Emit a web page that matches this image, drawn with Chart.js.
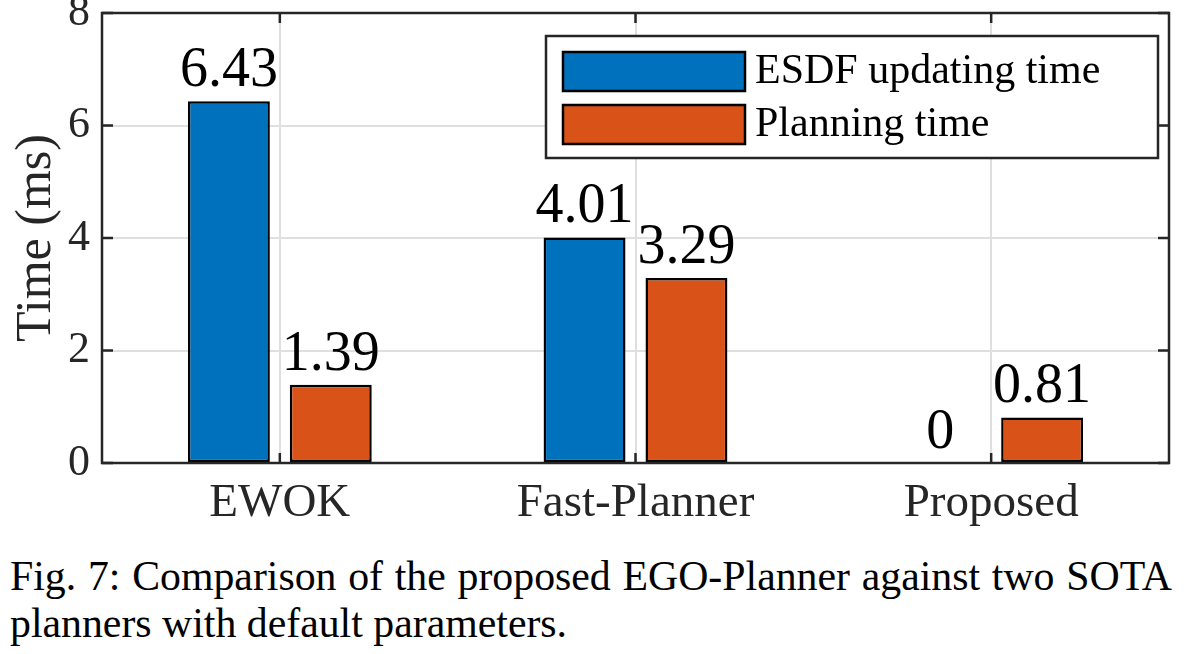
<!DOCTYPE html>
<html>
<head>
<meta charset="utf-8">
<script src="https://cdn.jsdelivr.net/npm/chart.js@4"></script>
<style>
  html, body { margin: 0; padding: 0; background: #fff; }
  body { width: 1184px; height: 654px; overflow: hidden; }
  #wrap { position: relative; width: 1184px; height: 540px; }
  #caption {
    font-family: "Liberation Serif", "Times New Roman", serif;
    font-size: 41.8px;
    line-height: 47px;
    color: #000;
    margin: 13px 0 0 10px;
    width: 1162px;
    white-space: nowrap;
  }
  #caption .l1 { text-align: justify; text-align-last: justify; }
</style>
</head>
<body>
<div id="wrap"><canvas id="timeChart"></canvas></div>
<div id="caption">
  <div class="l1">Fig. 7: Comparison of the proposed EGO-Planner against two SOTA</div>
  <div>planners with default parameters.</div>
</div>
<script>
const categories = ['EWOK', 'Fast-Planner', 'Proposed'];
const esdfTimes = [6.43, 4.01, 0];
const planningTimes = [1.39, 3.29, 0.81];
const seriesNames = ['ESDF updating time', 'Planning time'];
const yTicks = [0, 2, 4, 6, 8];

const SERIF = '"Liberation Serif", "Times New Roman", serif';
const AXIS_COLOR = '#262626';
const GRID_COLOR = '#dfdfdf';

// value labels above each bar
const barLabels = {
    id: 'barLabels',
    afterDatasetsDraw(chart) {
        const ctx = chart.ctx;
        ctx.save();
        ctx.font = '56px ' + SERIF;
        ctx.fillStyle = '#000';
        ctx.textAlign = 'center';
        ctx.textBaseline = 'alphabetic';
        chart.data.datasets.forEach((ds, i) => {
            chart.getDatasetMeta(i).data.forEach((bar, j) => {
                ctx.fillText(String(ds.data[j]), bar.x, bar.y - 15);
            });
        });
        ctx.restore();
    }
};

// box around plot + inward ticks
const axesBox = {
    id: 'axesBox',
    afterDraw(chart) {
        const ctx = chart.ctx;
        const a = chart.chartArea;
        const xs = chart.scales.x, ys = chart.scales.y;
        ctx.save();
        ctx.strokeStyle = AXIS_COLOR;
        ctx.lineWidth = 2.5;
        ctx.beginPath();
        ys.ticks.forEach(t => {
            const y = ys.getPixelForValue(t.value);
            ctx.moveTo(a.left, y); ctx.lineTo(a.left + 11, y);
            ctx.moveTo(a.right, y); ctx.lineTo(a.right - 11, y);
        });
        xs.ticks.forEach((t, i) => {
            const x = xs.getPixelForValue(i);
            ctx.moveTo(x, a.bottom); ctx.lineTo(x, a.bottom - 10);
            ctx.moveTo(x, a.top); ctx.lineTo(x, a.top + 10);
        });
        ctx.stroke();
        ctx.strokeRect(a.left, a.top, a.right - a.left, a.bottom - a.top);
        ctx.restore();
    }
};

// legend box inside the plot, top right
const boxLegend = {
    id: 'boxLegend',
    afterDraw(chart) {
        const ctx = chart.ctx;
        const a = chart.chartArea;
        const w = 612, h = 122;
        const x0 = a.right - 11 - w, y0 = a.top + 23;
        ctx.save();
        ctx.fillStyle = '#fff';
        ctx.fillRect(x0, y0, w, h);
        ctx.strokeStyle = AXIS_COLOR;
        ctx.lineWidth = 2.5;
        ctx.strokeRect(x0, y0, w, h);
        ctx.font = '42px ' + SERIF;
        ctx.textBaseline = 'middle';
        ctx.textAlign = 'left';
        chart.data.datasets.forEach((ds, i) => {
            const sy = y0 + 16 + i * 53;
            ctx.fillStyle = ds.backgroundColor;
            ctx.fillRect(x0 + 17, sy, 182, 39);
            ctx.strokeStyle = '#000';
            ctx.lineWidth = 2.5;
            ctx.strokeRect(x0 + 17, sy, 182, 39);
            ctx.fillStyle = '#000';
            ctx.fillText(ds.label, x0 + 209, sy + 20);
        });
        ctx.restore();
    }
};

new Chart(document.getElementById('timeChart'), {
    type: 'bar',
    data: {
        labels: categories,
        datasets: [{
            label: seriesNames[0],
            data: esdfTimes,
            backgroundColor: '#0072BD',
            borderColor: '#000',
            borderWidth: 2.5,
            borderSkipped: false,
            categoryPercentage: 0.573,
            barPercentage: 0.804
        }, {
            label: seriesNames[1],
            data: planningTimes,
            backgroundColor: '#D95319',
            borderColor: '#000',
            borderWidth: 2.5,
            borderSkipped: false,
            categoryPercentage: 0.573,
            barPercentage: 0.804
        }]
    },
    options: {
        responsive: true,
        maintainAspectRatio: false,
        animation: false,
        layout: { padding: { top: 13, right: 15, left: 0, bottom: 0 } },
        plugins: {
            legend: { display: false },
            tooltip: { enabled: false }
        },
        scales: {
            x: {
                offset: true,
                grid: { offset: false, color: GRID_COLOR, lineWidth: 2, drawTicks: false },
                border: { display: false },
                ticks: {
                    color: AXIS_COLOR,
                    padding: 12,
                    font: { family: SERIF, size: 47 }
                },
                afterFit(scale) {
                    scale.height = 77;
                    scale.paddingLeft = 0;
                    scale.paddingRight = 0;
                }
            },
            y: {
                min: 0,
                max: 8,
                afterBuildTicks(scale) { scale.ticks = yTicks.map(v => ({ value: v })); },
                grid: { color: GRID_COLOR, lineWidth: 2, drawTicks: false },
                border: { display: false },
                ticks: {
                    color: AXIS_COLOR,
                    padding: 12,
                    font: { family: SERIF, size: 44 }
                },
                title: {
                    display: true,
                    text: 'Time (ms)',
                    color: AXIS_COLOR,
                    padding: { top: 7, bottom: 0 },
                    font: { family: SERIF, size: 50 }
                },
                afterFit(scale) {
                    scale.width = 102;
                    scale.paddingTop = 0;
                    scale.paddingBottom = 0;
                }
            }
        }
    },
    plugins: [barLabels, axesBox, boxLegend]
});
</script>
</body>
</html>
